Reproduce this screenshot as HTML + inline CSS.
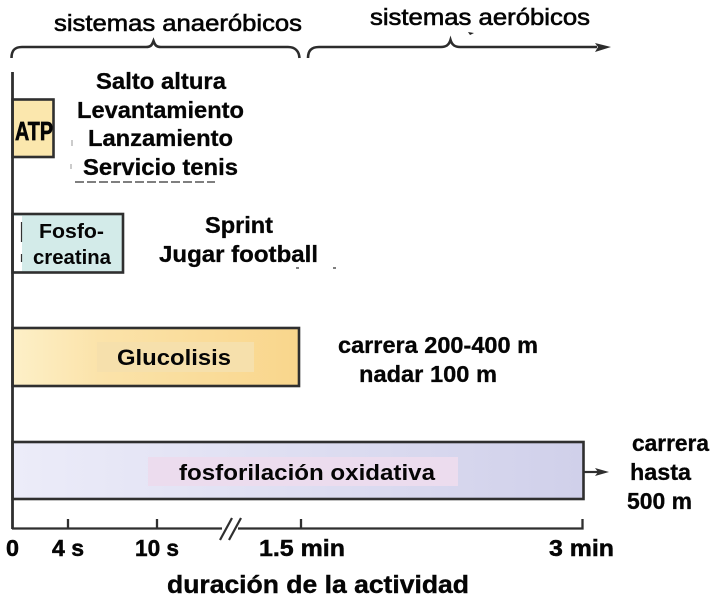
<!DOCTYPE html>
<html>
<head>
<meta charset="utf-8">
<style>
html,body{margin:0;padding:0;background:#fff;width:711px;height:608px;overflow:hidden}
svg{display:block;filter:blur(.3px)}
text{font-family:"Liberation Sans",sans-serif;font-weight:bold;fill:#050505;stroke:#050505;stroke-width:.3px}
.r{font-weight:normal;stroke-width:.6px}
.m{font-weight:bold;stroke-width:0}
</style>
</head>
<body>
<svg width="711" height="608" viewBox="0 0 711 608" xmlns="http://www.w3.org/2000/svg">
<defs>
<linearGradient id="g1" x1="0" x2="1" y1="0" y2="0"><stop offset="0" stop-color="#fdf0c8"/><stop offset=".3" stop-color="#fbe3aa"/><stop offset="1" stop-color="#f9d68c"/></linearGradient>
<linearGradient id="g2" x1="0" x2="1" y1="0" y2="0"><stop offset="0" stop-color="#ececf9"/><stop offset="1" stop-color="#d0d0ea"/></linearGradient>
</defs>
<rect width="711" height="608" fill="#fff"/>

<!-- braces -->
<path d="M11.500 58 C11.500 50 15 47 22 47 L146 47 C151 47 152 45 153.500 41 C155 45 156 47 161 47 L288 47 C295 47 299 51 299.500 58" fill="none" stroke="#2c2c2c" stroke-width="2.600"/>
<path d="M308 58 C308 50 312 47 319 47 L441 47 C446 47 449 45 450.500 40 C452 45 455 47 460 47 L597 47" fill="none" stroke="#2c2c2c" stroke-width="2.600"/>
<path d="M595 43 L611 47 L595 52 L598 47 Z" fill="#2c2c2c"/>
<path d="M468 32 L474 33 L470 35 Z" fill="#222"/>

<!-- bars -->
<rect x="12.500" y="99.500" width="41" height="57.500" fill="#fbe7ad" stroke="#2f2f2f" stroke-width="2.600"/>
<rect x="12.500" y="214" width="110.500" height="58.500" fill="#d3ebe9" stroke="#2f2f2f" stroke-width="2.600"/>
<rect x="14" y="216" width="8" height="55" fill="#fff"/>
<path d="M21.500 222 V242 M21.500 254 V262" stroke="#333" stroke-width="1.200"/>
<rect x="12.500" y="328" width="286.500" height="58" fill="url(#g1)" stroke="#2f2f2f" stroke-width="2.600"/>
<rect x="97" y="342" width="157" height="30" fill="#f6e0ac"/>
<rect x="12.500" y="442" width="571" height="57" fill="url(#g2)" stroke="#2f2f2f" stroke-width="2.600"/>
<rect x="148" y="457" width="310" height="29" fill="#ecdcee"/>

<!-- axis -->
<path d="M12.500 72 V529" stroke="#2f2f2f" stroke-width="2.800" fill="none"/>
<path d="M12 528.500 H582.500 V519 M68 519 V528 M157 519 V528 M301 519 V528" stroke="#2f2f2f" stroke-width="2.300" fill="none"/>
<rect x="222" y="524" width="16" height="9" fill="#fff"/>
<path d="M220 540 L232 518 M229 540 L241 518" stroke="#2f2f2f" stroke-width="2.200" fill="none"/>
<path d="M584 472 H598" stroke="#2f2f2f" stroke-width="2.200"/>
<path d="M595 468 L609 472 L595 476 L598 472 Z" fill="#2f2f2f"/>

<!-- artifacts -->
<path d="M75 182 H215" stroke="#333" stroke-width="1.200" stroke-dasharray="9 3" fill="none"/>
<path d="M72 140 V146 M71 164 V169" stroke="#999" stroke-width="1" fill="none"/>
<path d="M296 268 H299 M333 268 H336" stroke="#333" stroke-width="1.200" fill="none"/>

<!-- top labels -->
<text class="r" x="54" y="31" font-size="23" textLength="248" lengthAdjust="spacingAndGlyphs">sistemas anaeróbicos</text>
<text class="r" x="370" y="25" font-size="23" textLength="220" lengthAdjust="spacingAndGlyphs">sistemas aeróbicos</text>

<!-- activities -->
<text x="96" y="89" font-size="23" textLength="130" lengthAdjust="spacingAndGlyphs">Salto altura</text>
<text x="77" y="118" font-size="23" textLength="167" lengthAdjust="spacingAndGlyphs">Levantamiento</text>
<text x="88" y="146" font-size="23" textLength="145" lengthAdjust="spacingAndGlyphs">Lanzamiento</text>
<text x="83" y="175" font-size="23" textLength="155" lengthAdjust="spacingAndGlyphs">Servicio tenis</text>
<text x="205" y="233" font-size="23" textLength="68" lengthAdjust="spacingAndGlyphs">Sprint</text>
<text x="159" y="262" font-size="23" textLength="159" lengthAdjust="spacingAndGlyphs">Jugar football</text>
<text x="338" y="353" font-size="23" textLength="200" lengthAdjust="spacingAndGlyphs">carrera 200-400 m</text>
<text x="359" y="382" font-size="23" textLength="138" lengthAdjust="spacingAndGlyphs">nadar 100 m</text>
<text x="632" y="451" font-size="23" textLength="77" lengthAdjust="spacingAndGlyphs">carrera</text>
<text x="630" y="480" font-size="23" textLength="61" lengthAdjust="spacingAndGlyphs">hasta</text>
<text x="627" y="509" font-size="23" textLength="65" lengthAdjust="spacingAndGlyphs">500 m</text>

<!-- bar labels -->
<text x="15" y="140" font-size="26" textLength="38" lengthAdjust="spacingAndGlyphs" style="stroke-width:.7px">ATP</text>
<text class="m" x="39" y="238" font-size="20" textLength="65" lengthAdjust="spacingAndGlyphs">Fosfo-</text>
<text class="m" x="33" y="264" font-size="20" textLength="78" lengthAdjust="spacingAndGlyphs">creatina</text>
<text class="m" x="117" y="365" font-size="22" textLength="114" lengthAdjust="spacingAndGlyphs">Glucolisis</text>
<text class="m" x="179" y="480" font-size="22" textLength="256" lengthAdjust="spacingAndGlyphs">fosforilación oxidativa</text>

<!-- axis labels -->
<text x="6" y="556" font-size="23" textLength="13" lengthAdjust="spacingAndGlyphs" style="stroke-width:.5px">0</text>
<text x="52" y="556" font-size="23" textLength="32" lengthAdjust="spacingAndGlyphs" style="stroke-width:.5px">4 s</text>
<text x="135" y="556" font-size="23" textLength="44" lengthAdjust="spacingAndGlyphs" style="stroke-width:.5px">10 s</text>
<text x="259" y="556" font-size="23" textLength="86" lengthAdjust="spacingAndGlyphs" style="stroke-width:.5px">1.5 min</text>
<text x="549" y="556" font-size="23" textLength="65" lengthAdjust="spacingAndGlyphs" style="stroke-width:.5px">3 min</text>
<text x="167" y="593" font-size="25" textLength="302" lengthAdjust="spacingAndGlyphs" style="stroke-width:.4px">duración de la actividad</text>
</svg>
</body>
</html>
